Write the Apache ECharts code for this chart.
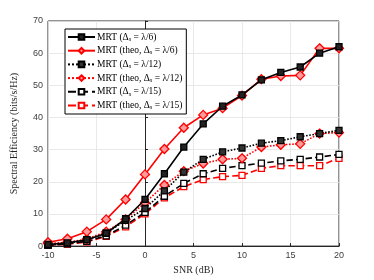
<!DOCTYPE html>
<html><head><meta charset="utf-8">
<script src="https://cdn.jsdelivr.net/npm/echarts@6/dist/echarts.min.js"></script>
<style>html,body{margin:0;padding:0;background:#fff}#c{width:374px;height:280px}</style>
</head><body><div id="c"></div>
<script>
const snr = [-10,-8,-6,-4,-2,0,2,4,6,8,10,12,14,16,18,20];
const mrt6 = [0.5,1,2,4,8.5,14.5,22.5,30.8,38,43.5,47,51.7,54,55.7,60,62];
const theo6 = [1.2,2.3,4.5,8.3,14.5,22.3,30.2,36.8,40.8,42.9,46.8,51.9,52.9,53.1,61.5,61.5];
const mrt12 = [0.3,0.8,2,4,8,11.7,17.2,23,27,29.3,30.5,32,32.8,34,35,36];
const theo12 = [0.8,1.2,2.2,4.5,8.3,13.5,19,23.3,25.7,27,27.3,30.8,31.5,31.8,35,35.3];
const mrt15 = [0.3,0.7,1.5,3.2,6.5,10.5,15.5,19.5,22.5,24.2,25,25.8,26.5,27,27.7,28.5];
const theo15 = [0.2,0.6,1.3,3,6,10,15,18.5,20.7,21.6,22,24.2,25,25,25,27.3];
const names = ['MRT (Δs = λ/6)','MRT (theo, Δs = λ/6)','MRT (Δs = λ/12)','MRT (theo, Δs = λ/12)','MRT (Δs = λ/15)','MRT (theo, Δs = λ/15)'];
const yTicks = [0,10,20,30,40,50,60,70];
const xTicks = [-10,-5,0,5,10,15,20];

const defs = [
  {d: mrt6, color:'#000', type:'solid', sym:'rect', size:6, fill:'#222'},
  {d: theo6, color:'#f00', type:'solid', sym:'diamond', size:9, fill:'#ff9a9a'},
  {d: mrt12, color:'#000', type:'dotted', sym:'rect', size:6, fill:'#333'},
  {d: theo12, color:'#f00', type:'dotted', sym:'diamond', size:9, fill:'#ff9a9a'},
  {d: mrt15, color:'#000', type:'dashed', sym:'rect', size:6, fill:'#fff'},
  {d: theo15, color:'#f00', type:'dashed', sym:'rect', size:6, fill:'#fff'}
];
const series = defs.map((s,i)=>({
  name: names[i], type:'line', data: snr.map((x,j)=>[x,s.d[j]]),
  symbol: s.sym, symbolSize: s.size, showAllSymbol:true,
  lineStyle:{color:s.color, width:1.6, type:s.type},
  itemStyle:{color:s.fill, borderColor:s.color, borderWidth:1.3},
  emphasis:{disabled:true}, animation:false, z: 10-i
}));
const chart = echarts.init(document.getElementById('c'));
chart.setOption({
  backgroundColor:'#fff',
  animation:false,
  grid:{left:48, right:35, top:21, bottom:32, show:true, borderColor:'#262626', borderWidth:1},
  xAxis:{type:'value', min:-10, max:20, interval:5,
    name:'SNR (dB)', nameLocation:'middle', nameGap:18,
    nameTextStyle:{fontFamily:'Liberation Serif', fontSize:10, color:'#262626'},
    axisLine:{show:true, lineStyle:{color:'#262626'}},
    axisTick:{inside:true, length:3, lineStyle:{color:'#262626'}},
    axisLabel:{fontFamily:'Liberation Sans', fontSize:9, color:'#404040', margin:5,
      formatter: v => xTicks.includes(v) ? String(v) : ''},
    splitLine:{show:true, lineStyle:{color:'#e3e3e3', width:0.8}}},
  yAxis:{type:'value', min:0, max:70, interval:10,
    name:'Spectral Efficiency (bits/s/Hz)', nameLocation:'middle', nameGap:29,
    nameTextStyle:{fontFamily:'Liberation Serif', fontSize:10, color:'#262626'},
    axisLine:{show:true, lineStyle:{color:'#262626'}},
    axisTick:{inside:true, length:3, lineStyle:{color:'#262626'}},
    axisLabel:{fontFamily:'Liberation Sans', fontSize:9, color:'#404040', margin:5,
      formatter: v => yTicks.includes(v) ? String(v) : ''},
    splitLine:{show:true, lineStyle:{color:'#e3e3e3', width:0.8}}},
  legend:{orient:'vertical', left:65, top:29, itemWidth:27, itemHeight:7, itemGap:3.2,
    backgroundColor:'#fff', borderColor:'#000', borderWidth:1, padding:[3,4,3,2],
    selectedMode:false,
    textStyle:{fontFamily:'Liberation Serif', fontSize:9.5, color:'#000', padding:[0,0,0,-3],
      rich:{s:{fontFamily:'Liberation Serif', fontSize:6.5, fontStyle:'italic', padding:[4,0,0,0]}}},
    formatter: n => n.replace('Δs','Δ{s|s}'),
    data: names},
  series
});
</script></body></html>
